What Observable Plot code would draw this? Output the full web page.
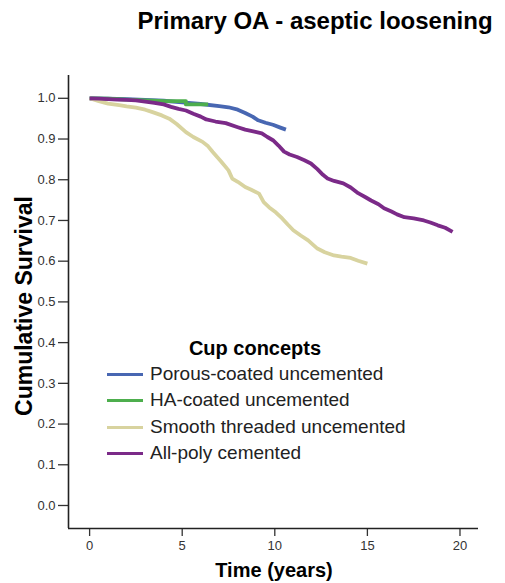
<!DOCTYPE html>
<html>
<head>
<meta charset="utf-8">
<script src="https://cdn.jsdelivr.net/npm/d3@7"></script>
<script src="https://cdn.jsdelivr.net/npm/@observablehq/plot@0.6"></script>
<style>
  html, body { margin: 0; padding: 0; background: #fff; }
  #wrap { position: relative; width: 505px; height: 583px; font-family: "Liberation Sans", Arial, sans-serif; overflow: hidden; }
  .abs { position: absolute; white-space: nowrap; line-height: 1.15; }
  #title { left: 315px; top: 7px; transform: translateX(-50%); font-size: 24px; font-weight: bold; color: #000; }
  #ylab { left: 24px; top: 306px; transform: translate(-50%, -50%) rotate(-90deg); font-size: 23px; font-weight: bold; color: #000; }
  #xlab { left: 274px; top: 559px; transform: translateX(-50%); font-size: 20px; font-weight: bold; color: #000; }
  #legend { left: 107px; top: 0px; }
  #legend .lt { position: absolute; left: 148px; top: 337px; transform: translateX(-50%); font-size: 20px; font-weight: bold; color: #000; white-space: nowrap; line-height: 1.15; }
  #legend .item { position: absolute; left: 0; height: 22px; display: flex; align-items: center; white-space: nowrap; }
  #legend .sw { width: 36px; height: 3px; margin-right: 7px; }
  #legend .tx { font-size: 19px; color: #222; line-height: 1.15; }
</style>
</head>
<body>
<div id="wrap">
  <div id="chart"></div>
  <div id="title" class="abs">Primary OA - aseptic loosening</div>
  <div id="ylab" class="abs">Cumulative Survival</div>
  <div id="xlab" class="abs">Time (years)</div>
  <div id="legend" class="abs"></div>
</div>
<script>
// Series names and colours
const seriesNames = ["Porous-coated uncemented", "HA-coated uncemented", "Smooth threaded uncemented", "All-poly cemented"];
const seriesColors = ["#4867b2", "#4dae4d", "#d8d39f", "#7b2a88"];

// Porous-coated uncemented
const porousT = [0, 1, 2, 3, 4, 5, 6, 7, 7.5, 8, 8.4, 8.8, 9.1, 9.5, 9.9, 10.3, 10.6];
const porousS = [1.0, 0.999, 0.998, 0.996, 0.994, 0.99, 0.986, 0.981, 0.978, 0.972, 0.964, 0.955, 0.946, 0.940, 0.935, 0.928, 0.923];

// HA-coated uncemented
const haT = [0, 1, 2, 3, 4.1, 5.2, 5.2, 6.4];
const haS = [1.0, 0.999, 0.997, 0.995, 0.993, 0.993, 0.985, 0.985];

// Smooth threaded uncemented
const smoothT = [0, 0.5, 1, 1.6, 2.0, 2.5, 3.0, 3.4, 3.9, 4.3, 4.7, 5.2, 5.6, 6.1, 6.4, 6.65, 7.1, 7.5, 7.7, 8.0, 8.4, 8.7, 9.15, 9.4, 9.7, 10.05, 10.4, 10.7, 11.0, 11.4, 11.8, 12.3, 12.7, 13.2, 13.6, 14.1, 14.5, 15.0];
const smoothS = [1.0, 0.993, 0.987, 0.983, 0.98, 0.977, 0.972, 0.966, 0.958, 0.95, 0.937, 0.917, 0.905, 0.893, 0.882, 0.868, 0.845, 0.823, 0.803, 0.795, 0.782, 0.776, 0.766, 0.745, 0.732, 0.72, 0.705, 0.69, 0.676, 0.663, 0.651, 0.631, 0.622, 0.614, 0.611, 0.608, 0.601, 0.594];

// All-poly cemented
const allpolyT = [0, 0.5, 1, 1.5, 2, 2.5, 3, 3.5, 4, 4.4, 4.8, 5.2, 5.6, 6.0, 6.3, 6.8, 7.35, 8.0, 8.4, 8.9, 9.3, 9.6, 9.9, 10.2, 10.5, 10.8, 11.2, 11.6, 11.95, 12.3, 12.6, 12.85, 13.2, 13.7, 14.1, 14.5, 14.9, 15.2, 15.6, 15.9, 16.3, 16.6, 17.0, 17.5, 18.05, 18.4, 18.8, 19.2, 19.6];
const allpolyS = [1.0, 0.999, 0.998, 0.997, 0.996, 0.995, 0.992, 0.989, 0.985, 0.979, 0.974, 0.97, 0.962, 0.955, 0.948, 0.943, 0.939, 0.929, 0.923, 0.918, 0.914, 0.905, 0.897, 0.884, 0.869, 0.862, 0.856, 0.848, 0.84, 0.826, 0.812, 0.803, 0.797, 0.791, 0.781, 0.767, 0.757, 0.749, 0.74, 0.73, 0.722, 0.715, 0.708, 0.705, 0.70, 0.695, 0.688, 0.682, 0.672];

// Axis ticks
const xTicks = [0, 5, 10, 15, 20];
const yTicks = [0, 0.1, 0.2, 0.3, 0.4, 0.5, 0.6, 0.7, 0.8, 0.9, 1.0];
const xDomain = [-1.14, 21.0];
const yDomain = [-0.0565, 1.056];

const seriesT = [porousT, haT, smoothT, allpolyT];
const seriesS = [porousS, haS, smoothS, allpolyS];
const rows = [];
seriesNames.forEach((name, i) => {
  seriesT[i].forEach((t, j) => rows.push({series: name, t, s: seriesS[i][j]}));
});

const chart = Plot.plot({
  width: 505,
  height: 583,
  marginLeft: 68,
  marginRight: 27,
  marginTop: 75,
  marginBottom: 55,
  style: {fontFamily: "Liberation Sans, Arial, sans-serif", fontSize: "13px", color: "#333", background: "#fff"},
  x: {domain: xDomain},
  y: {domain: yDomain},
  color: {domain: seriesNames, range: seriesColors},
  marks: [
    Plot.axisY({ticks: yTicks, tickFormat: d3.format(".1f"), tickSize: 10, tickPadding: 3, label: null, stroke: "#333", strokeWidth: 1.3, fontSize: 13}),
    Plot.axisX({ticks: xTicks, tickSize: 8, tickPadding: 4, label: null, stroke: "#333", strokeWidth: 1.3, fontSize: 13}),
    Plot.ruleX([xDomain[0]], {stroke: "#222", strokeWidth: 1.6}),
    Plot.ruleY([yDomain[0]], {stroke: "#222", strokeWidth: 1.6}),
    Plot.line(rows, {x: "t", y: "s", z: "series", stroke: "series", curve: "linear", strokeWidth: 3.8, strokeLinejoin: "round", strokeLinecap: "butt"})
  ]
});
document.getElementById("chart").appendChild(chart);

// Legend
const legend = document.getElementById("legend");
const lt = document.createElement("div");
lt.className = "lt";
lt.textContent = "Cup concepts";
legend.appendChild(lt);
const itemCenters = [374, 400, 427, 453];
seriesNames.forEach((name, i) => {
  const it = document.createElement("div");
  it.className = "item";
  it.style.top = (itemCenters[i] - 11) + "px";
  const sw = document.createElement("div");
  sw.className = "sw";
  sw.style.background = seriesColors[i];
  const tx = document.createElement("span");
  tx.className = "tx";
  tx.textContent = name;
  it.appendChild(sw); it.appendChild(tx);
  legend.appendChild(it);
});
</script>
</body>
</html>
